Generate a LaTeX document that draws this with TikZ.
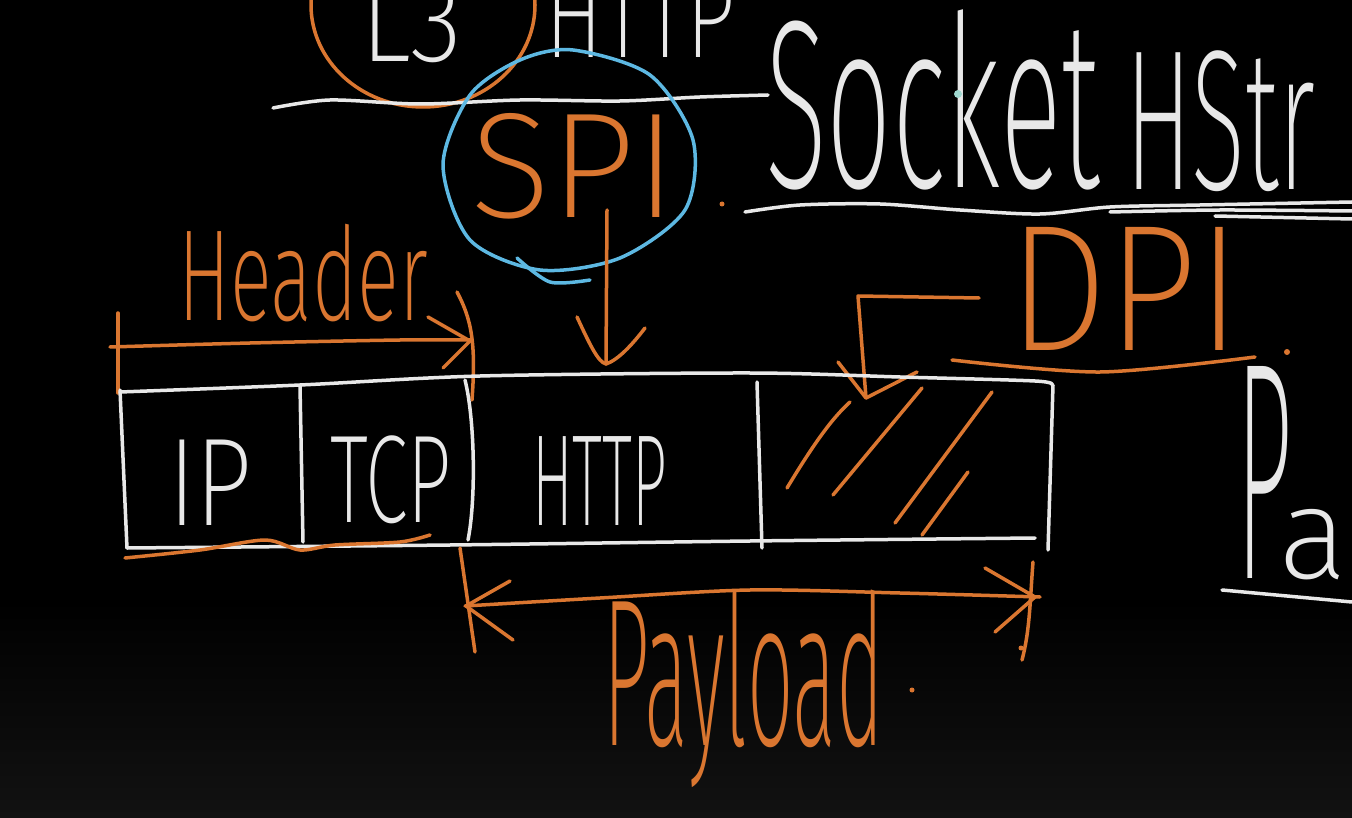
\documentclass[tikz,border=0pt]{standalone}
\usepackage{fontspec}
\usepackage{graphicx}
\IfFontExistsTF{Fira Sans ExtraLight}{\newfontfamily\hand{Fira Sans ExtraLight}}{%
 \IfFontExistsTF{Lato Thin}{\newfontfamily\hand{Lato Thin}}{%
  \IfFontExistsTF{Fira Sans Light}{\newfontfamily\hand{Fira Sans Light}}{%
   \IfFontExistsTF{Open Sans Light}{\newfontfamily\hand{Open Sans Light}}{%
    \newfontfamily\hand{Fira Sans}}}}}
\newcommand\hfs[1]{\hand\fontsize{#1}{#1}\selectfont}
\definecolor{chalk}{HTML}{E8E8E8}
\definecolor{ora}{HTML}{DA7630}
\definecolor{sky}{HTML}{5DB8E2}
\definecolor{bgbot}{HTML}{121212}
\definecolor{cursor}{HTML}{9FD8D0}
\tikzset{
  wl/.style={draw=chalk, line width=3.5pt},
  ol/.style={draw=ora, line width=3.5pt},
  bl/.style={draw=sky, line width=3.5pt},
  txt/.style={inner sep=0pt, outer sep=0pt, anchor=base west},
  wt/.style={txt, text=chalk},
  ot/.style={txt, text=ora}
}
\begin{document}
\begin{tikzpicture}[x=1pt,y=-1pt, line cap=round, line join=round]
\useasboundingbox (0,0) rectangle (1352,818);
\fill[black] (0,0) rectangle (1352,818);
\shade[top color=black, bottom color=bgbot] (0,600) rectangle (1352,818);
\clip (0,0) rectangle (1352,818);

% ---------- top row: L3 / HTTP ----------
\draw[ol] (423,5) ellipse [x radius=112, y radius=102];
\node[wt, font=\hfs{120}, xscale=0.9] (l3) at (360,62) {L3};
\node[wt, font=\hfs{120}, xscale=0.72] (http1) at (545,58) {HTTP};
\draw[wl] plot[smooth] coordinates {(273,108) (330,100) (420,104) (520,100) (620,101) (700,97) (768,95)};

% ---------- Socket ----------
\node[wt, font=\hfs{240}, xscale=0.48] (sock) at (765,188) {Socket};
\node[wt, font=\hfs{200}, xscale=0.5] (hstr) at (1125,190) {HStr};
\fill[cursor] (958,94) circle (4);
\draw[wl] plot[smooth] coordinates {(745,212) (800,205) (880,204) (960,210) (1040,214) (1110,207) (1200,205) (1352,202)};
\draw[wl] plot[smooth] coordinates {(1110,212) (1220,210) (1352,211)};
\draw[wl] (1215,216) -- (1352,219);

% ---------- SPI ----------
\draw[bl] plot[smooth cycle] coordinates {(573,50) (650,75) (693,140) (685,210) (620,258) (540,270) (470,240) (443,165) (470,95) (520,60)};
\draw[bl] plot[smooth] coordinates {(517,258) (550,282) (590,280)};
\node[ot, font=\hfs{150}] (spi) at (470,218) {SPI};
\fill[ora] (722,204) circle (2.5);
\coordinate (spitip) at (606,364);
\draw[ol] (607,210) -- (spitip);
\draw[ol] (577,317) .. controls (590,345) and (598,362) .. (spitip) .. controls (618,360) and (632,345) .. (645,328);

% ---------- DPI ----------
\node[ot, font=\hfs{180}, xscale=0.88] (dpi) at (1008,350) {DPI};
\draw[ol] plot[smooth] coordinates {(952,360) (1100,372) (1255,357)};
\fill[ora] (1287,352) circle (3);
\coordinate (dpitip) at (866,398);
\draw[ol] (979,298) -- (858,296) -- (dpitip);
\draw[ol] (838,362) -- (dpitip) -- (917,372);

% ---------- Header ----------
\node[ot, font=\hfs{130}, xscale=0.6] (hdr) at (178,320) {Header};
\draw[ol] plot[smooth] coordinates {(110,347) (250,343) (400,340) (470,340)};
\draw[ol] (118,313) -- (118,393);
\draw[ol] (428,317) -- (470,341) -- (443,368);
\draw[ol] (457,292) .. controls (472,320) and (476,345) .. (472,400);

% ---------- packet box ----------
\draw[wl] plot[smooth] coordinates {(120,392) (300,385) (480,376) (750,373) (900,377) (1035,381) (1052,385)};
\draw[wl] (120,390) -- (127,548);
\draw[wl] plot[smooth] coordinates {(127,548) (450,545) (750,541) (1035,538)};
\draw[wl] (1053,385) -- (1048,550);
\draw[wl] (300,386) -- (303,542);
\draw[wl] (465,380) .. controls (475,420) and (476,500) .. (468,540);
\draw[wl] (757,382) -- (762,548);
\node[wt, font=\hfs{125}, xscale=0.8] (ip) at (168,525) {IP};
\node[wt, font=\hfs{125}, xscale=0.62] (tcp) at (330,522) {TCP};
\node[wt, font=\hfs{130}, xscale=0.47] (http2) at (532,525) {HTTP};
\draw[ol] plot[smooth] coordinates {(125,558) (200,550) (265,540) (300,550) (335,545) (400,542) (430,535)};

% hatching
\draw[ol] (787,488) .. controls (810,450) and (830,420) .. (850,402);
\draw[ol] (833,495) -- (922,388);
\draw[ol] (895,523) -- (992,392);
\draw[ol] (922,535) -- (968,472);

% ---------- Payload ----------
\draw[ol] plot[smooth] coordinates {(465,606) (600,598) (750,590) (900,593) (1040,597)};
\draw[ol] (510,581) -- (466,606) -- (513,640);
\draw[ol] (985,568) -- (1035,597) -- (995,632);
\draw[ol] (460,548) -- (475,652);
\draw[ol] (1033,562) .. controls (1030,600) and (1030,630) .. (1022,660);
\fill[ora] (1021,648) circle (2.5);
\node[ot, font=\hfs{210}, xscale=0.39] (pay) at (603,745) {Payload};
\fill[ora] (912,690) circle (2.5);

% ---------- right edge ----------
\node[wt] (pa) at (1236,578) {\scalebox{0.32}[1]{\hfs{310}P}\kern-14pt{\hfs{130}a}};
\draw[wl] (1222,590) -- (1352,602);
\end{tikzpicture}
\end{document}
